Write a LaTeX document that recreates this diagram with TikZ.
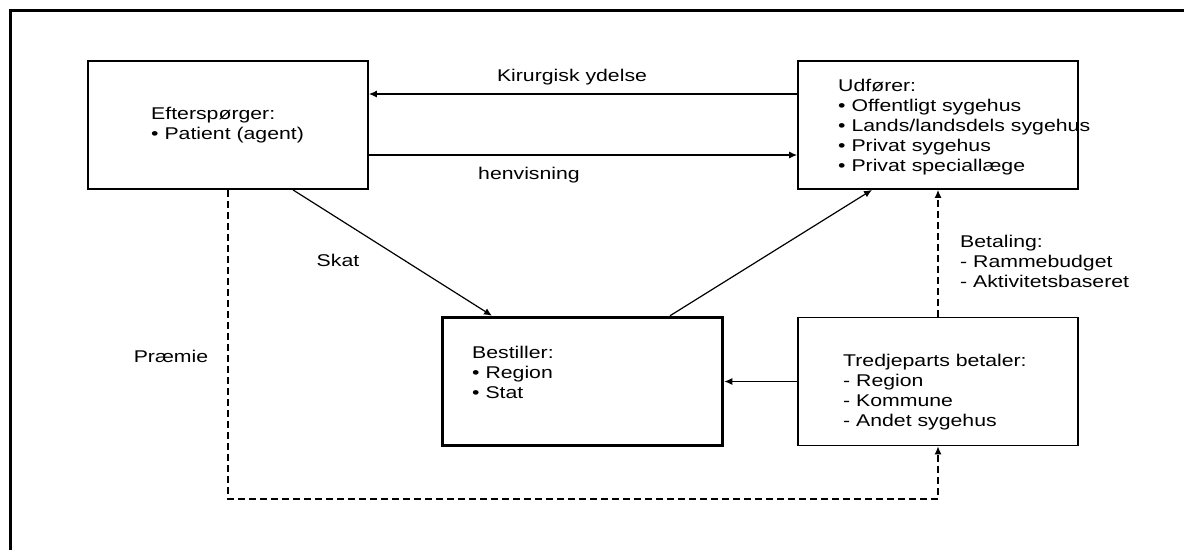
\documentclass[tikz,border=0pt]{standalone}
\usepackage{fontspec}
\setmainfont{Liberation Sans}[FakeStretch=1.25]
\usetikzlibrary{arrows,arrows.meta}
\tikzset{
	boks/.style={draw,line width=1.8pt,inner sep=0pt,minimum width=280pt,minimum height=128pt},
	tekst/.style={align=left,anchor=west,inner sep=0pt,font=\fontsize{17pt}{20pt}\selectfont},
	pil/.style={-{Latex[length=8pt,width=7pt]},line width=1.2pt},
	stiplet/.style={pil,dash pattern=on 7pt off 4pt}
}
\begin{document}
\begin{tikzpicture}[x=1pt,y=-1pt]
			\useasboundingbox (0,0) rectangle (1184,550);
			\draw[line width=3pt] (10,550) -- (10,10) -- (1186,10);
			% kasser
			\node[boks] (eft) at (228,125) {};
			\node[boks] (udf) at (938,125) {};
			\node[boks,line width=3.5pt] (bes) at (582.5,381.5) {};
			\node[boks] (tre) at (938,381.5) {};
			% tekst i kasserne
			\node[tekst] (efttxt) at (151,125) {Efterspørger:\\\textbullet\ Patient (agent)};
			\node[tekst] (udftxt) at (838,127) {Udfører:\\\textbullet\ Offentligt sygehus\\\textbullet\ Lands/landsdels sygehus\\\textbullet\ Privat sygehus\\\textbullet\ Privat speciallæge};
			\node[tekst] (bestxt) at (472,372) {Bestiller:\\\textbullet\ Region\\\textbullet\ Stat};
			\node[tekst] (tretxt) at (843,392) {Tredjeparts betaler:\\- Region\\- Kommune\\- Andet sygehus};
			% pile
			\draw[pil] ([yshift=31pt]udf.west) -- ([yshift=31pt]eft.east);
			\draw[pil] ([yshift=-30pt]eft.east) -- ([yshift=-30pt]udf.west);
			\draw[pil] ([xshift=65pt]eft.south) -- ([xshift=-90.5pt]bes.north);
			\draw[pil] ([xshift=87.5pt]bes.north) -- ([xshift=-66pt]udf.south);
			\draw[pil] (tre.west) -- (bes.east);
			\draw[stiplet] (tre.north) -- (udf.south);
			\draw[stiplet] (eft.south) -- ++(0,309) -| (tre.south);
			% tekst ved pilene
			\node[tekst,anchor=center] (kir) at (572,77) {Kirurgisk ydelse};
			\node[tekst,anchor=center] (hen) at (529,175) {henvisning};
			\node[tekst,anchor=center] (skat) at (338,260) {Skat};
			\node[tekst,anchor=center] (praem) at (171,356) {Præmie};
			\node[tekst] (bet) at (960,261) {Betaling:\\- Rammebudget\\- Aktivitetsbaseret};
		\end{tikzpicture}
\end{document}
